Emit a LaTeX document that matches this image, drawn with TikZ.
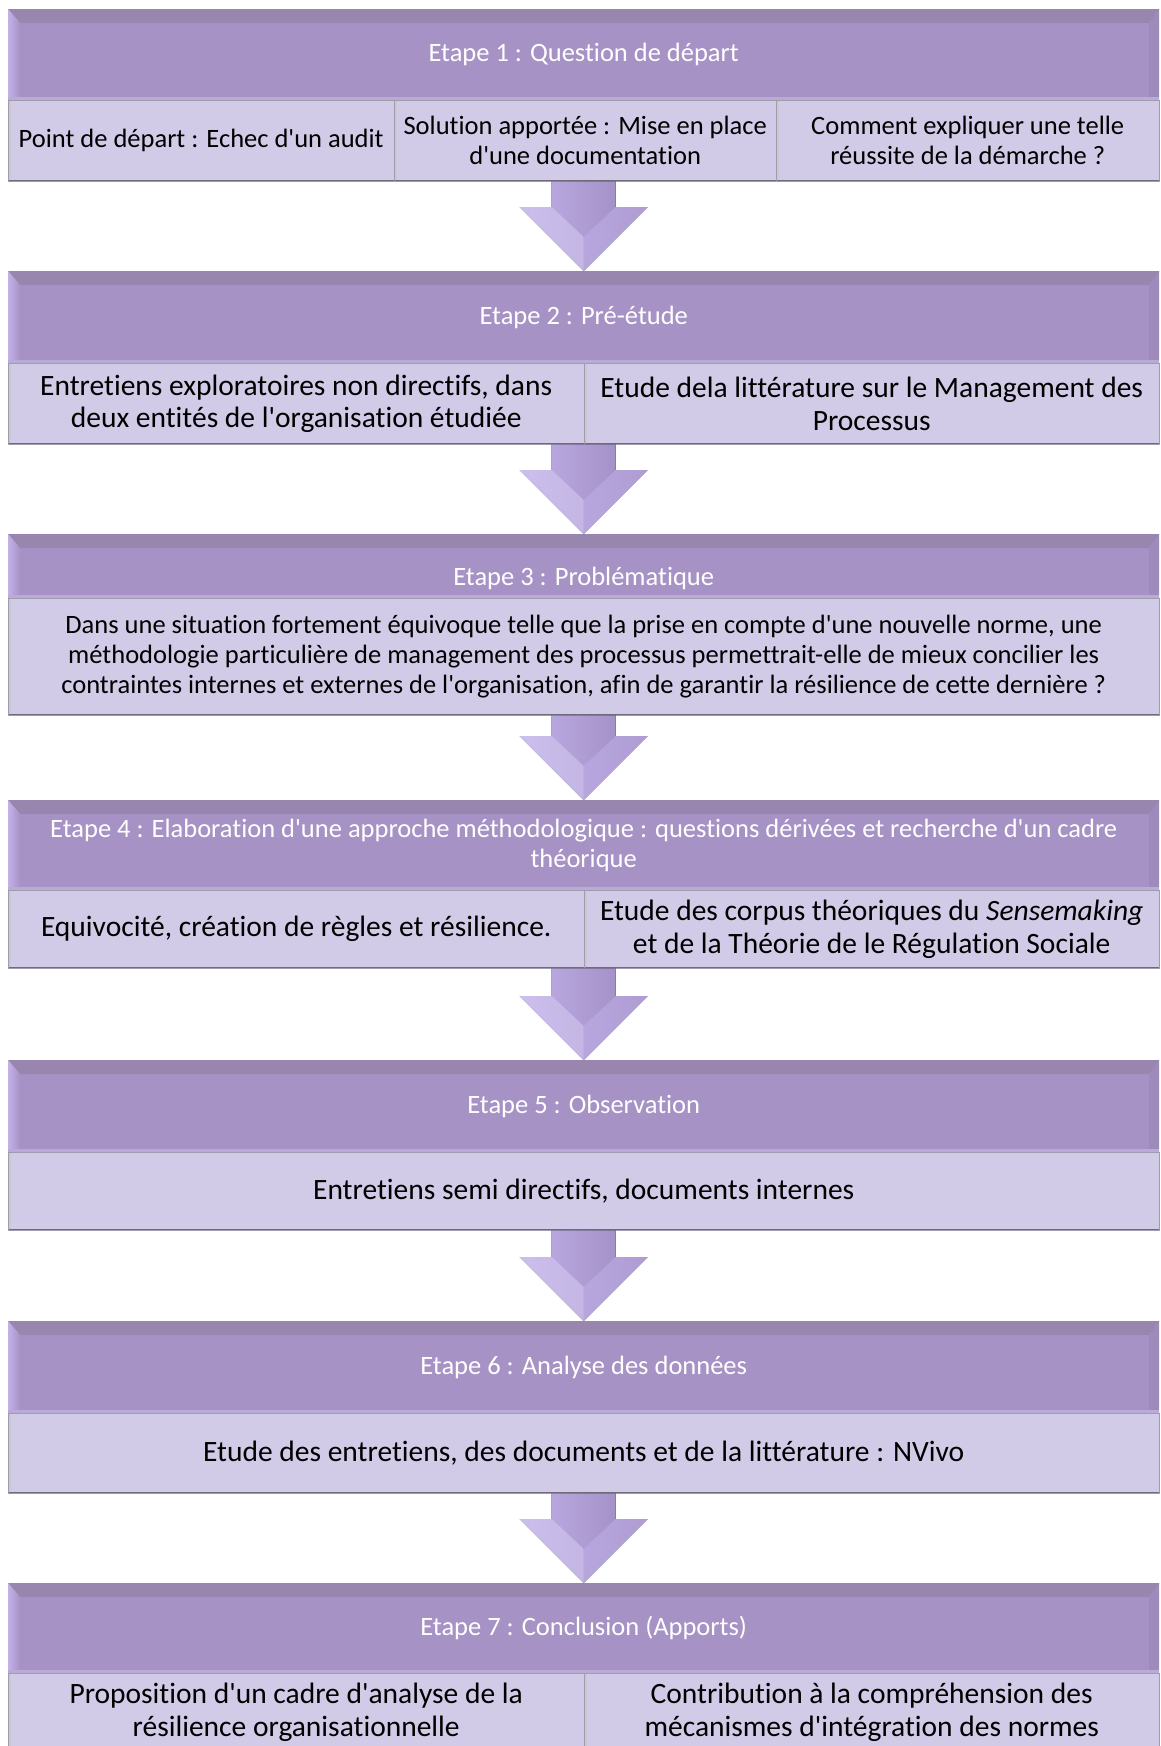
\documentclass[tikz,border=0pt]{standalone}
\usepackage{fontspec}
\setmainfont{Carlito}[Ligatures={TeXOff,NoCommon}]
\usetikzlibrary{calc}
\definecolor{hdfill}{HTML}{A692C4}
\definecolor{hdtop}{HTML}{9886AE}
\definecolor{hdleft}{HTML}{C2B1E8}
\definecolor{hdright}{HTML}{9D8BBB}
\definecolor{hdlow}{HTML}{B9ABD6}
\definecolor{cellfill}{HTML}{D1CBE7}
\definecolor{cellline}{HTML}{A09CB0}
\definecolor{celldark}{HTML}{6F6C7A}
\definecolor{arrowlight}{HTML}{C2B1EA}
\definecolor{arrowdark}{HTML}{9A88BC}
% block arrow between two steps
\newcommand\fleche[2]{%
  \fill[left color=arrowlight, right color=arrowdark]
    ($(#2 |- #1)+(-32,0)$) -- ($(#2 |- #1)+(32,0)$) -- ($(#2)+(32,-64)$) -- ($(#2)+(64,-64)$)
    -- (#2) -- ($(#2)+(-64,-64)$) -- ($(#2)+(-32,-64)$) -- cycle;
  \fill[arrowlight!70!white, opacity=0.6] ($(#2)+(-64,-64)$) -- ($(#2)+(-32,-64)$) -- ($(#2)+(0,-34)$) -- (#2) -- cycle;
  \fill[arrowlight, opacity=0.5] ($(#2)+(64,-64)$) -- ($(#2)+(32,-64)$) -- ($(#2)+(0,-34)$) -- (#2) -- cycle;
}
\begin{document}
\begin{tikzpicture}[x=1pt, y=-1pt,
  every node/.style={font=\fontsize{26.5}{30}\selectfont, inner sep=0pt, align=center},
  big/.style={font=\fontsize{29.5}{32.5}\selectfont},
  etape/.style={fill=hdfill, text=white, anchor=north west, minimum width=1151pt, minimum height=#1,
    path picture={
      \fill[hdtop] (path picture bounding box.north west) -- (path picture bounding box.north east)
        -- ([xshift=-10pt,yshift=-14pt]path picture bounding box.north east) -- ([xshift=12pt,yshift=-14pt]path picture bounding box.north west) -- cycle;
      \fill[left color=hdleft, right color=hdfill] (path picture bounding box.north west) -- ([xshift=12pt,yshift=-14pt]path picture bounding box.north west)
        -- ([xshift=12pt,yshift=3pt]path picture bounding box.south west) -- (path picture bounding box.south west) -- cycle;
      \fill[hdright] (path picture bounding box.north east) -- ([xshift=-10pt,yshift=-14pt]path picture bounding box.north east)
        -- ([xshift=-10pt,yshift=3pt]path picture bounding box.south east) -- (path picture bounding box.south east) -- cycle;
      \fill[hdlow] (path picture bounding box.south west) rectangle ([yshift=3pt]path picture bounding box.south east);
    }},
  etape/.default=91pt,
  cell/.style={fill=cellfill, draw=cellline, anchor=north west, minimum height=#1,
    path picture={
      \fill[cellline!55] (path picture bounding box.north west) rectangle ([xshift=3pt]path picture bounding box.south west);
      \draw[celldark, line width=3pt] (path picture bounding box.south west) -- (path picture bounding box.south east);
    }},
  cell/.default=81pt]
  \fill[white] (0,0) rectangle (1161,1746);
  \useasboundingbox (0,0) rectangle (1161,1746);
  % etape 1
  \node[etape] (h1) at (8,9) {Etape 1 : Question de départ};
  \node[cell, minimum width=386pt] (b1a) at (8,100) {Point de départ : Echec d'un audit};
  \node[cell, minimum width=382pt] (b1b) at (394,100) {Solution apportée : Mise en place\\d'une documentation};
  \node[cell, minimum width=383pt] (b1c) at (776,100) {Comment expliquer une telle\\réussite de la démarche ?};
  % etape 2
  \node[etape=92pt] (h2) at (8,271) {Etape 2 : Pré-étude};
  \node[cell, big, minimum width=576pt] (b2a) at (8,363) {Entretiens exploratoires non directifs, dans\\deux entités de l'organisation étudiée};
  \node[cell, big, minimum width=575pt] (b2b) at (584,363) {Etude dela littérature sur le Management des\\Processus};
  % etape 3
  \node[etape=64pt, text height=42pt] (h3) at (8,534) {Etape 3 : Problématique};
  \node[cell=117pt, minimum width=1151pt] (b3) at (8,598) {Dans une situation fortement équivoque telle que la prise en compte d'une nouvelle norme, une\\méthodologie particulière de management des processus permettrait-elle de mieux concilier les\\contraintes internes et externes de l'organisation, afin de garantir la résilience de cette dernière ?};
  % etape 4
  \node[etape=90pt] (h4) at (8,800) {Etape 4 : Elaboration d'une approche méthodologique : questions dérivées et recherche d'un cadre\\théorique};
  \node[cell=78pt, big, minimum width=576pt] (b4a) at (8,890) {Equivocité, création de règles et résilience.};
  \node[cell=78pt, big, minimum width=575pt] (b4b) at (584,890) {Etude des corpus théoriques du \textit{Sensemaking}\\et de la Théorie de le Régulation Sociale};
  % etape 5
  \node[etape=92pt] (h5) at (8,1060) {Etape 5 : Observation};
  \node[cell=78pt, big, minimum width=1151pt] (b5) at (8,1152) {Entretiens semi directifs, documents internes};
  % etape 6
  \node[etape=92pt] (h6) at (8,1321) {Etape 6 : Analyse des données};
  \node[cell=80pt, big, minimum width=1151pt] (b6) at (8,1413) {Etude des entretiens, des documents et de la littérature : NVivo};
  % etape 7
  \node[etape=90pt] (h7) at (8,1583) {Etape 7 : Conclusion (Apports)};
  \node[cell=78pt, big, minimum width=576pt] (b7a) at (8,1673) {Proposition d'un cadre d'analyse de la\\résilience organisationnelle};
  \node[cell=78pt, big, minimum width=575pt] (b7b) at (584,1673) {Contribution à la compréhension des\\mécanismes d'intégration des normes};
  % arrows
  \foreach \a/\b in {b1b.south/h2.north, b2a.south east/h3.north, b3.south/h4.north,
    b4a.south east/h5.north, b5.south/h6.north, b6.south/h7.north}
    \fleche{\a}{\b};
\end{tikzpicture}
\end{document}
